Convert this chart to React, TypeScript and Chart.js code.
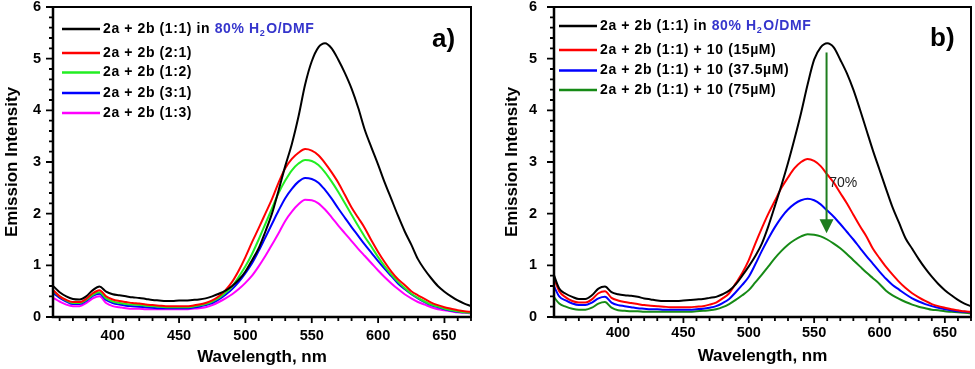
import { useEffect, useRef } from 'react';
import { Chart, registerables } from 'chart.js';

Chart.register(...registerables);

const FONT = "'Liberation Sans', Arial, Helvetica, sans-serif";

// ---------------- data ----------------
const wavelengths = [
  350, 355, 360, 365, 370, 375, 380, 385, 390, 395, 400, 405, 410, 415, 420, 425, 430, 435, 440, 445,
  450, 455, 460, 465, 470, 475, 480, 485, 490, 495, 500, 505, 510, 515, 520, 525, 530, 535, 540, 545,
  550, 555, 560, 565, 570, 575, 580, 585, 590, 595, 600, 605, 610, 615, 620, 625, 630, 635, 640, 645,
  650, 655, 660, 665, 670,
];

// panel a)
const aBlack = [
  0.68, 0.60, 0.48, 0.40, 0.35, 0.34, 0.40, 0.52, 0.59, 0.49, 0.44, 0.42, 0.40, 0.38, 0.37, 0.35, 0.33, 0.32, 0.31, 0.31,
  0.32, 0.32, 0.33, 0.34, 0.36, 0.40, 0.45, 0.51, 0.60, 0.72, 0.88, 1.10, 1.33, 1.65, 2.00, 2.45, 2.92, 3.35, 3.88, 4.50,
  4.95, 5.22, 5.30, 5.20, 4.98, 4.72, 4.42, 4.05, 3.62, 3.28, 2.95, 2.60, 2.28, 1.96, 1.66, 1.40, 1.12, 0.92, 0.75, 0.60,
  0.49, 0.40, 0.32, 0.26, 0.21,
];
const aRed = [
  0.58, 0.52, 0.40, 0.33, 0.29, 0.29, 0.35, 0.46, 0.52, 0.40, 0.34, 0.31, 0.29, 0.27, 0.26, 0.24, 0.23, 0.22, 0.21, 0.21,
  0.21, 0.21, 0.22, 0.24, 0.27, 0.32, 0.40, 0.52, 0.68, 0.90, 1.16, 1.45, 1.72, 2.00, 2.28, 2.60, 2.88, 3.06, 3.18, 3.25,
  3.22, 3.13, 2.98, 2.80, 2.60, 2.36, 2.12, 1.92, 1.72, 1.48, 1.26, 1.06, 0.88, 0.73, 0.62, 0.50, 0.42, 0.35, 0.28, 0.23,
  0.19, 0.16, 0.13, 0.11, 0.10,
];
const aGreen = [
  0.56, 0.50, 0.40, 0.32, 0.27, 0.27, 0.33, 0.43, 0.48, 0.36, 0.30, 0.27, 0.25, 0.24, 0.23, 0.22, 0.21, 0.20, 0.19, 0.19,
  0.19, 0.19, 0.20, 0.22, 0.25, 0.30, 0.37, 0.47, 0.59, 0.78, 0.98, 1.22, 1.50, 1.80, 2.10, 2.40, 2.64, 2.84, 2.97, 3.04,
  3.02, 2.94, 2.80, 2.62, 2.42, 2.20, 1.98, 1.76, 1.55, 1.36, 1.16, 0.98, 0.82, 0.68, 0.56, 0.45, 0.37, 0.30, 0.24, 0.20,
  0.16, 0.13, 0.11, 0.09, 0.08,
];
const aBlue = [
  0.50, 0.46, 0.37, 0.30, 0.25, 0.25, 0.31, 0.41, 0.45, 0.33, 0.27, 0.24, 0.22, 0.21, 0.20, 0.19, 0.18, 0.17, 0.17, 0.17,
  0.17, 0.17, 0.18, 0.20, 0.23, 0.27, 0.34, 0.43, 0.54, 0.68, 0.85, 1.04, 1.28, 1.54, 1.80, 2.06, 2.30, 2.48, 2.62, 2.69,
  2.67, 2.60, 2.46, 2.29, 2.10, 1.92, 1.74, 1.57, 1.40, 1.24, 1.08, 0.93, 0.79, 0.65, 0.54, 0.44, 0.36, 0.29, 0.23, 0.19,
  0.15, 0.12, 0.10, 0.09, 0.08,
];
const aMagenta = [
  0.40, 0.37, 0.30, 0.24, 0.21, 0.21, 0.27, 0.36, 0.40, 0.27, 0.21, 0.19, 0.17, 0.16, 0.16, 0.15, 0.15, 0.15, 0.15, 0.15,
  0.15, 0.15, 0.16, 0.17, 0.19, 0.23, 0.29, 0.36, 0.44, 0.54, 0.66, 0.80, 0.98, 1.18, 1.40, 1.62, 1.86, 2.04, 2.18, 2.27,
  2.26, 2.20, 2.08, 1.93, 1.77, 1.62, 1.47, 1.32, 1.18, 1.04, 0.90, 0.77, 0.65, 0.54, 0.44, 0.36, 0.29, 0.24, 0.19, 0.15,
  0.13, 0.11, 0.09, 0.08, 0.07,
];

// panel b)
const bBlack = [
  0.88, 0.55, 0.45, 0.39, 0.35, 0.35, 0.42, 0.55, 0.59, 0.48, 0.44, 0.42, 0.41, 0.39, 0.36, 0.34, 0.32, 0.31, 0.31, 0.31,
  0.32, 0.33, 0.34, 0.35, 0.37, 0.39, 0.44, 0.51, 0.63, 0.80, 0.98, 1.18, 1.42, 1.76, 2.15, 2.55, 2.98, 3.45, 3.95, 4.50,
  4.98, 5.22, 5.30, 5.22, 4.98, 4.72, 4.40, 4.02, 3.62, 3.22, 2.85, 2.48, 2.12, 1.82, 1.52, 1.32, 1.12, 0.94, 0.78, 0.64,
  0.52, 0.42, 0.33, 0.26, 0.21,
];
const bRed = [
  0.82, 0.50, 0.38, 0.31, 0.28, 0.28, 0.34, 0.46, 0.50, 0.37, 0.32, 0.29, 0.27, 0.25, 0.23, 0.22, 0.21, 0.20, 0.19, 0.19,
  0.19, 0.19, 0.20, 0.21, 0.24, 0.28, 0.36, 0.46, 0.65, 0.85, 1.10, 1.42, 1.72, 2.00, 2.25, 2.50, 2.70, 2.88, 3.00, 3.06,
  3.02, 2.92, 2.76, 2.60, 2.40, 2.20, 1.98, 1.76, 1.56, 1.32, 1.14, 0.97, 0.82, 0.68, 0.56, 0.46, 0.38, 0.31, 0.25, 0.21,
  0.18, 0.15, 0.13, 0.11, 0.10,
];
const bBlue = [
  0.65, 0.40, 0.32, 0.26, 0.23, 0.23, 0.28, 0.36, 0.39, 0.28, 0.23, 0.21, 0.19, 0.17, 0.16, 0.15, 0.15, 0.14, 0.14, 0.14,
  0.14, 0.14, 0.15, 0.16, 0.18, 0.21, 0.27, 0.35, 0.48, 0.62, 0.78, 1.02, 1.28, 1.52, 1.74, 1.93, 2.08, 2.19, 2.26, 2.29,
  2.26, 2.18, 2.06, 1.94, 1.80, 1.65, 1.50, 1.34, 1.18, 1.03, 0.88, 0.74, 0.62, 0.53, 0.44, 0.36, 0.30, 0.25, 0.21, 0.18,
  0.15, 0.13, 0.11, 0.10, 0.09,
];
const bGreen = [
  0.42, 0.26, 0.20, 0.16, 0.14, 0.14, 0.18, 0.26, 0.29, 0.18, 0.13, 0.12, 0.11, 0.11, 0.10, 0.10, 0.10, 0.10, 0.10, 0.10,
  0.10, 0.10, 0.11, 0.12, 0.13, 0.15, 0.19, 0.25, 0.33, 0.42, 0.52, 0.67, 0.82, 0.98, 1.14, 1.28, 1.40, 1.49, 1.56, 1.60,
  1.59, 1.56, 1.50, 1.42, 1.33, 1.22, 1.10, 0.98, 0.86, 0.75, 0.64, 0.51, 0.42, 0.35, 0.29, 0.24, 0.20, 0.17, 0.14, 0.13,
  0.11, 0.10, 0.09, 0.08, 0.07,
];

// labels & ticks
const xMajorTicks = [400, 450, 500, 550, 600, 650];
const yMajorTicks = [0, 1, 2, 3, 4, 5, 6];
const firstLabel = '2a + 2b (1:1) in ';
const solventParts = ['80% H', '2', 'O/DMF'];
const labelsA = ['2a + 2b (2:1)', '2a + 2b (1:2)', '2a + 2b (3:1)', '2a + 2b (1:3)'];
const labelsB = ['2a + 2b (1:1) + 10 (15\u00B5M)', '2a + 2b (1:1) + 10 (37.5\u00B5M)', '2a + 2b (1:1) + 10 (75\u00B5M)'];
const arrowX = 559.5;
const arrowFrom = 5.12;
const arrowTo = 1.62;
const arrowLabel = '70%';
const arrowLabelX = 561.5;
const arrowLabelY = 2.6;

const BLUE_TXT = '#3535cc';
const ARROW_GREEN = '#1e7d1e';

type Series = { label: string; color: string; values: number[] };
type PanelSpec = {
  xMin: number;
  series: Series[];
  yWidth: number;
  rightPad: number;
  yLabelPad: number;
  xLabelPad: number;
  yTitlePad: number;
  xTitlePad: number;
  legend: { x0: number; x1: number; textX: number; rows: number[] };
  letter: { text: string; x: number; y: number };
  arrow: boolean;
};

function drawLegend(ctx: CanvasRenderingContext2D, spec: PanelSpec) {
  const { x0, x1, textX, rows } = spec.legend;
  ctx.save();
  ctx.textBaseline = 'middle';
  ctx.textAlign = 'left';
  (ctx as any).letterSpacing = '0.6px';
  spec.series.forEach((s, i) => {
    const y = rows[i];
    ctx.strokeStyle = s.color;
    ctx.lineWidth = 2.5;
    ctx.beginPath();
    ctx.moveTo(x0, y);
    ctx.lineTo(x1, y);
    ctx.stroke();
    ctx.font = `bold 14px ${FONT}`;
    if (i === 0) {
      let x = textX;
      ctx.fillStyle = '#000';
      ctx.fillText(firstLabel, x, y);
      x += ctx.measureText(firstLabel).width;
      ctx.fillStyle = BLUE_TXT;
      ctx.fillText(solventParts[0], x, y);
      x += ctx.measureText(solventParts[0]).width;
      ctx.font = `bold 9px ${FONT}`;
      ctx.fillText(solventParts[1], x, y + 5);
      x += ctx.measureText(solventParts[1]).width + 1;
      ctx.font = `bold 14px ${FONT}`;
      ctx.fillText(solventParts[2], x, y);
    } else {
      ctx.fillStyle = '#000';
      ctx.fillText(s.label, textX, y);
    }
  });
  ctx.restore();
}

function makeConfig(spec: PanelSpec): any {
  const decor = {
    id: 'decor',
    afterDraw(chart: any) {
      const { ctx, chartArea: a } = chart;
      const xs = chart.scales.x;
      const ys = chart.scales.y;
      ctx.save();
      ctx.strokeStyle = '#000';
      // frame
      ctx.lineWidth = 2;
      ctx.strokeRect(a.left, a.top, a.right - a.left, a.bottom - a.top);
      ctx.lineWidth = 2.5;
      ctx.beginPath();
      ctx.moveTo(a.left, a.top);
      ctx.lineTo(a.left, a.bottom);
      ctx.lineTo(a.right, a.bottom);
      ctx.stroke();
      // x ticks (outward)
      ctx.lineWidth = 1.8;
      ctx.beginPath();
      for (let v = Math.ceil(xs.min / 10) * 10; v <= xs.max; v += 10) {
        const px = xs.getPixelForValue(v);
        const len = v % 50 === 0 ? 6 : 4;
        ctx.moveTo(px, a.bottom);
        ctx.lineTo(px, a.bottom + len);
      }
      // y ticks (outward)
      for (let i = 0; i <= 30; i++) {
        const py = ys.getPixelForValue(i * 0.2);
        const len = i % 5 === 0 ? 7 : 4;
        ctx.moveTo(a.left, py);
        ctx.lineTo(a.left - len, py);
      }
      ctx.stroke();
      ctx.restore();

      drawLegend(ctx, spec);

      // panel letter
      ctx.save();
      ctx.font = `bold 26px ${FONT}`;
      ctx.fillStyle = '#000';
      ctx.textBaseline = 'middle';
      ctx.textAlign = 'left';
      ctx.fillText(spec.letter.text, spec.letter.x, spec.letter.y);
      ctx.restore();

      if (spec.arrow) {
        const ax = xs.getPixelForValue(arrowX);
        const y0 = ys.getPixelForValue(arrowFrom);
        const y1 = ys.getPixelForValue(arrowTo);
        ctx.save();
        ctx.strokeStyle = ARROW_GREEN;
        ctx.fillStyle = ARROW_GREEN;
        ctx.lineWidth = 2;
        ctx.beginPath();
        ctx.moveTo(ax, y0);
        ctx.lineTo(ax, y1 - 10);
        ctx.stroke();
        ctx.beginPath();
        ctx.moveTo(ax - 7, y1 - 14);
        ctx.lineTo(ax + 7, y1 - 14);
        ctx.lineTo(ax, y1);
        ctx.closePath();
        ctx.fill();
        ctx.font = `14px ${FONT}`;
        ctx.fillStyle = '#222';
        ctx.textBaseline = 'middle';
        ctx.textAlign = 'left';
        ctx.fillText(arrowLabel, xs.getPixelForValue(arrowLabelX), ys.getPixelForValue(arrowLabelY));
        ctx.restore();
      }
    },
  };

  const tickFont = { family: FONT, size: 14.5, weight: 'bold' as const, lineHeight: 1 };
  const titleFont = { family: FONT, size: 17, weight: 'bold' as const, lineHeight: 1.2 };

  return {
    type: 'line',
    data: {
      datasets: spec.series.map((s) => ({
        label: s.label,
        data: wavelengths.map((w, i) => ({ x: w, y: s.values[i] })),
        borderColor: s.color,
        backgroundColor: s.color,
        borderWidth: 2,
        pointRadius: 0,
        cubicInterpolationMode: 'monotone',
        fill: false,
      })),
    },
    options: {
      responsive: false,
      animation: false,
      events: [],
      layout: { padding: { left: 0, right: spec.rightPad, top: 7, bottom: 0 } },
      plugins: { legend: { display: false }, tooltip: { enabled: false }, title: { display: false } },
      scales: {
        x: {
          type: 'linear',
          min: spec.xMin,
          max: 670,
          afterBuildTicks: (s: any) => {
            s.ticks = xMajorTicks.map((v) => ({ value: v }));
          },
          afterFit: (s: any) => {
            s.height = 52;
            s.paddingLeft = 0;
            s.paddingRight = 0;
          },
          grid: { display: false, drawTicks: false },
          border: { display: false },
          ticks: {
            padding: spec.xLabelPad,
            color: '#000',
            font: tickFont,
            maxRotation: 0,
            autoSkip: false,
            callback: (v: any) => String(v),
          },
          title: {
            display: true,
            text: 'Wavelength, nm',
            color: '#000',
            font: titleFont,
            padding: { top: 0, bottom: spec.xTitlePad },
          },
        },
        y: {
          type: 'linear',
          min: 0,
          max: 6,
          afterBuildTicks: (s: any) => {
            s.ticks = yMajorTicks.map((v) => ({ value: v }));
          },
          afterFit: (s: any) => {
            s.width = spec.yWidth;
            s.paddingTop = 0;
            s.paddingBottom = 0;
          },
          grid: { display: false, drawTicks: false },
          border: { display: false },
          ticks: {
            padding: spec.yLabelPad,
            color: '#000',
            font: tickFont,
            autoSkip: false,
            callback: (v: any) => String(v),
          },
          title: {
            display: true,
            text: 'Emission Intensity',
            color: '#000',
            font: titleFont,
            padding: { top: spec.yTitlePad, bottom: 0 },
          },
        },
      },
    },
    plugins: [decor],
  };
}

const panelA: PanelSpec = {
  xMin: 355,
  series: [
    { label: firstLabel + solventParts.join(''), color: '#000000', values: aBlack },
    { label: labelsA[0], color: '#ff0000', values: aRed },
    { label: labelsA[1], color: '#22ee22', values: aGreen },
    { label: labelsA[2], color: '#0000ff', values: aBlue },
    { label: labelsA[3], color: '#ff00ff', values: aMagenta },
  ],
  yWidth: 53,
  rightPad: 16,
  yLabelPad: 12,
  xLabelPad: 12,
  yTitlePad: 2,
  xTitlePad: 1,
  legend: { x0: 62, x1: 100, textX: 103, rows: [29, 53, 72.5, 93, 113] },
  letter: { text: 'a)', x: 432, y: 40 },
  arrow: false,
};

const panelB: PanelSpec = {
  xMin: 351,
  series: [
    { label: firstLabel + solventParts.join(''), color: '#000000', values: bBlack },
    { label: labelsB[0], color: '#ff0000', values: bRed },
    { label: labelsB[1], color: '#0000ff', values: bBlue },
    { label: labelsB[2], color: '#168a16', values: bGreen },
  ],
  yWidth: 67,
  rightPad: 4,
  yLabelPad: 17,
  xLabelPad: 9,
  yTitlePad: 15,
  xTitlePad: 2,
  legend: { x0: 72, x1: 110, textX: 113, rows: [26, 50, 70.5, 90] },
  letter: { text: 'b)', x: 443, y: 39 },
  arrow: true,
};

export default function App() {
  const leftRef = useRef<HTMLCanvasElement>(null);
  const rightRef = useRef<HTMLCanvasElement>(null);

  useEffect(() => {
    const c1 = new Chart(leftRef.current as HTMLCanvasElement, makeConfig(panelA));
    const c2 = new Chart(rightRef.current as HTMLCanvasElement, makeConfig(panelB));
    return () => {
      c1.destroy();
      c2.destroy();
    };
  }, []);

  return (
    <div style={{ position: 'absolute', left: 0, top: 0, width: 975, height: 369, background: '#fff' }}>
      <canvas ref={leftRef} width={487} height={369} style={{ position: 'absolute', left: 0, top: 0 }} />
      <canvas ref={rightRef} width={488} height={369} style={{ position: 'absolute', left: 487, top: 0 }} />
    </div>
  );
}
